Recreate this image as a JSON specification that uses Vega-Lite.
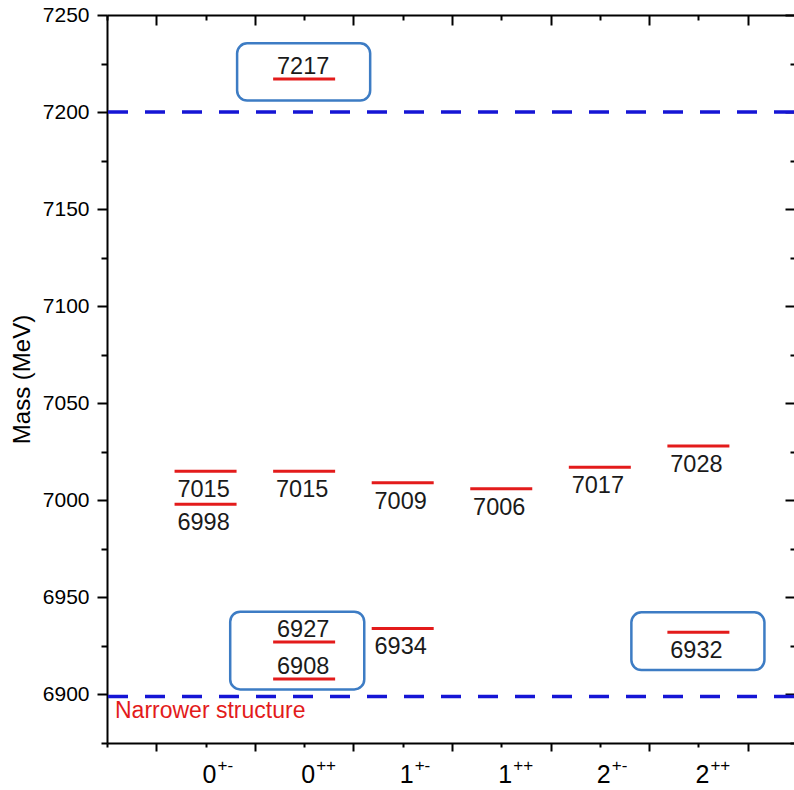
{
  "$schema": "https://vega.github.io/schema/vega-lite/v6.json",
  "width": 687,
  "height": 728,
  "autosize": {"type": "none"},
  "padding": {"left": 107, "top": 15, "right": 0, "bottom": 47},
  "background": "white",
  "config": {
    "view": {"stroke": null},
    "font": "Liberation Sans",
    "axis": {"grid": false, "domainColor": "black", "tickColor": "black", "domainWidth": 2, "tickWidth": 2, "labelColor": "black", "titleColor": "black"}
  },
  "datasets": {
    "levels": [
      {"jpc": "0+-", "pos": 1, "mass": 7015},
      {"jpc": "0+-", "pos": 1, "mass": 6998},
      {"jpc": "0++", "pos": 2, "mass": 7217},
      {"jpc": "0++", "pos": 2, "mass": 7015},
      {"jpc": "0++", "pos": 2, "mass": 6927},
      {"jpc": "0++", "pos": 2, "mass": 6908},
      {"jpc": "1+-", "pos": 3, "mass": 7009},
      {"jpc": "1+-", "pos": 3, "mass": 6934},
      {"jpc": "1++", "pos": 4, "mass": 7006},
      {"jpc": "2+-", "pos": 5, "mass": 7017},
      {"jpc": "2++", "pos": 6, "mass": 7028},
      {"jpc": "2++", "pos": 6, "mass": 6932}
    ],
    "states": [
      {"jpc": "0+-", "pos": 1, "J": "0", "PC": "+-"},
      {"jpc": "0++", "pos": 2, "J": "0", "PC": "++"},
      {"jpc": "1+-", "pos": 3, "J": "1", "PC": "+-"},
      {"jpc": "1++", "pos": 4, "J": "1", "PC": "++"},
      {"jpc": "2+-", "pos": 5, "J": "2", "PC": "+-"},
      {"jpc": "2++", "pos": 6, "J": "2", "PC": "++"}
    ],
    "thresholds": [
      {"mass": 7200, "note": ""},
      {"mass": 6899, "note": "Narrower structure"}
    ],
    "boxes": [
      {"x1": 1.32, "x2": 2.67, "y1": 7205.9, "y2": 7235.4},
      {"x1": 1.25, "x2": 2.61, "y1": 6902.6, "y2": 6942.6},
      {"x1": 5.32, "x2": 6.67, "y1": 6912.6, "y2": 6942.3}
    ]
  },
  "resolve": {"axis": {"x": "independent", "y": "independent"}},
  "layer": [
    {
      "data": {"name": "boxes"},
      "mark": {"type": "rect", "fill": "white", "fillOpacity": 0, "stroke": "#3d7cc4", "strokeWidth": 2.5, "cornerRadius": 10},
      "encoding": {
        "x": {"field": "x1", "type": "quantitative", "scale": {"domain": [0, 6.97], "nice": false, "zero": false},
              "axis": {"orient": "bottom", "values": [0.5, 1.5, 2.5, 3.5, 4.5, 5.5, 6.5], "labels": false, "tickSize": 8, "title": null}},
        "x2": {"field": "x2"},
        "y": {"field": "y1", "type": "quantitative", "scale": {"domain": [6875, 7250], "nice": false, "zero": false},
              "axis": {"orient": "left", "values": [6900, 6950, 7000, 7050, 7100, 7150, 7200, 7250], "format": "d", "tickSize": 10, "labelFontSize": 21, "labelPadding": 8, "title": "Mass (MeV)", "titleFontSize": 24, "titleFontWeight": "normal", "titlePadding": 8}},
        "y2": {"field": "y2"}
      }
    },
    {
      "data": {"name": "thresholds"},
      "mark": {"type": "rule", "color": "#1515d5", "strokeWidth": 3.5, "strokeDash": [20, 17]},
      "encoding": {
        "y": {"field": "mass", "type": "quantitative", "scale": {"domain": [6875, 7250], "nice": false, "zero": false},
              "axis": {"orient": "left", "values": [6875, 6925, 6975, 7025, 7075, 7125, 7175, 7225], "labels": false, "tickSize": 6, "domain": false, "title": null}}
      }
    },
    {
      "data": {"name": "levels"},
      "mark": {"type": "rule", "color": "#e31b1b", "strokeWidth": 3, "xOffset": -31, "x2Offset": 31},
      "encoding": {
        "x": {"field": "pos", "type": "quantitative", "scale": {"domain": [0, 6.97], "nice": false, "zero": false},
              "axis": {"orient": "bottom", "values": [0, 1, 2, 3, 4, 5, 6], "tickSize": 4, "domain": false, "title": null, "labels": false}},
        "x2": {"field": "pos"},
        "y": {"field": "mass", "type": "quantitative", "scale": {"domain": [6875, 7250], "nice": false, "zero": false},
              "axis": {"orient": "right", "values": [6900, 6950, 7000, 7050, 7100, 7150, 7200, 7250], "labels": false, "tickSize": -9, "domain": false, "title": null}}
      }
    },
    {
      "data": {"name": "levels"},
      "transform": [{"filter": {"not": {"field": "mass", "oneOf": [7217, 6927, 6908]}}}],
      "mark": {"type": "text", "fontSize": 23.5, "dy": 26, "dx": -2, "baseline": "alphabetic", "color": "#1a1a1a"},
      "encoding": {
        "x": {"field": "pos", "type": "quantitative", "scale": {"domain": [0, 6.97], "nice": false, "zero": false},
              "axis": {"orient": "top", "values": [0.5, 1.5, 2.5, 3.5, 4.5, 5.5, 6.5], "labels": false, "tickSize": -10, "title": null}},
        "y": {"field": "mass", "type": "quantitative", "scale": {"domain": [6875, 7250], "nice": false, "zero": false},
              "axis": {"orient": "right", "values": [6875, 6925, 6975, 7025, 7075, 7125, 7175, 7225], "labels": false, "tickSize": -4, "domain": false, "title": null}},
        "text": {"field": "mass", "type": "quantitative", "format": "d"}
      }
    },
    {
      "data": {"name": "levels"},
      "transform": [{"filter": {"field": "mass", "oneOf": [7217, 6927, 6908]}}],
      "mark": {"type": "text", "fontSize": 23.5, "dy": -5, "dx": -1, "baseline": "alphabetic", "color": "#1a1a1a"},
      "encoding": {
        "x": {"field": "pos", "type": "quantitative", "scale": {"domain": [0, 6.97], "nice": false, "zero": false},
              "axis": {"orient": "top", "values": [0, 1, 2, 3, 4, 5, 6], "labels": false, "tickSize": -5, "domain": false, "title": null}},
        "y": {"field": "mass", "type": "quantitative", "scale": {"domain": [6875, 7250], "nice": false, "zero": false}, "axis": null},
        "text": {"field": "mass", "type": "quantitative", "format": "d"}
      }
    },
    {
      "data": {"name": "states"},
      "mark": {"type": "text", "fontSize": 25, "dx": 4, "dy": 40, "align": "center", "baseline": "alphabetic", "color": "black"},
      "encoding": {
        "x": {"field": "pos", "type": "quantitative", "scale": {"domain": [0, 6.97], "nice": false, "zero": false}, "axis": null},
        "y": {"datum": 6875, "type": "quantitative", "scale": {"domain": [6875, 7250], "nice": false, "zero": false}, "axis": null},
        "text": {"field": "J"}
      }
    },
    {
      "data": {"name": "states"},
      "mark": {"type": "text", "fontSize": 17, "dx": 12, "dy": 28, "align": "left", "baseline": "alphabetic", "color": "black"},
      "encoding": {
        "x": {"field": "pos", "type": "quantitative", "scale": {"domain": [0, 6.97], "nice": false, "zero": false}, "axis": null},
        "y": {"datum": 6875, "type": "quantitative", "scale": {"domain": [6875, 7250], "nice": false, "zero": false}, "axis": null},
        "text": {"field": "PC"}
      }
    },
    {
      "data": {"name": "thresholds"},
      "mark": {"type": "text", "align": "left", "dx": 8, "dy": 22, "fontSize": 23, "color": "#e31b1b", "baseline": "alphabetic"},
      "encoding": {
        "x": {"datum": 0, "type": "quantitative", "scale": {"domain": [0, 6.97], "nice": false, "zero": false}, "axis": null},
        "y": {"field": "mass", "type": "quantitative", "scale": {"domain": [6875, 7250], "nice": false, "zero": false}, "axis": null},
        "text": {"field": "note"}
      }
    }
  ]
}
